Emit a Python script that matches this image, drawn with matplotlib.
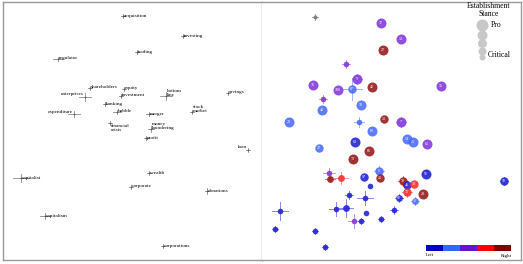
import matplotlib
matplotlib.use("Agg")
import matplotlib.pyplot as plt
from matplotlib.patches import Rectangle

# ---------------- data: left panel (word map) ----------------
words = ["acquisition", "investing", "trading", "regulator", "shareholders", "equity",
         "enterprises", "investment", "bottom\nline", "savings", "banking", "expenditure",
         "bubble", "merger", "stock\nmarket", "financial\ncrisis", "money\nlaundering",
         "profit", "loan", "capitalist", "wealth", "corporate", "donations", "capitalism",
         "corporations"]
word_x = [123, 183, 137, 58, 90, 124, 85, 121, 166, 228, 105, 74, 117, 149, 192, 110, 151,
          146, 248, 21, 149, 131, 207, 45, 163]
word_y = [16, 36, 52, 59, 88, 89, 97, 96, 96, 93, 104, 114, 112, 114, 112, 123, 129,
          138, 150, 178, 173, 187, 191, 216, 246]
word_xerr = [2, 2, 2, 5, 2, 2, 6, 2, 6, 2, 2, 6, 4, 3, 2, 2, 3, 2, 2, 8, 2, 2, 2, 5, 2]
word_yerr = [2, 2, 2, 2, 2, 2, 4, 2, 4, 2, 2, 3, 2, 2, 2, 2, 3, 2, 2, 4, 2, 2, 3, 3, 2]

# ---------------- data: right panel (speakers) ----------------
# stance group: 0 Left .. 4 Right, -1 unknown
pt_x = [315, 381, 401, 383, 346, 357, 313, 338, 352, 372, 441, 323, 322, 361, 289, 359, 384,
        401, 372, 355, 407, 413, 427, 319, 369, 353, 329, 330, 341, 364, 379, 380, 426, 370,
        403, 407, 414, 407, 423, 349, 365, 399, 415, 504, 280, 336, 346, 366, 394, 354, 361,
        381, 275, 315, 325]
pt_y = [17, 23, 39, 50, 64, 79, 85, 90, 89, 87, 86, 99, 110, 105, 122, 122, 119, 122, 131,
        142, 139, 142, 144, 148, 151, 159, 173, 179, 178, 177, 171, 178, 174, 186, 181, 185,
        184, 192, 194, 195, 198, 198, 201, 181, 211, 209, 208, 213, 210, 221, 221, 219, 229,
        231, 247]
pt_group = [-1, 2, 2, 4, 2, 2, 2, 2, 1, 4, 2, 2, 1, 1, 1, 1, 4, 2, 1, 0, 1, 1, 2, 1, 4, 4,
            2, 4, 3, 0, 1, 4, 0, 0, 4, 0, 3, 3, 4, 0, 0, 0, 1, 0, 0, 0, 0, 0, 0, 2, 0, 0, 0,
            0, 0]
pt_stance = [1, 5, 5, 5, 2, 5, 5, 5, 4, 5, 5, 2, 5, 5, 5, 2, 4, 5, 5, 5, 5, 5, 5, 4, 5, 5,
             2, 3, 3, 4, 4, 4, 5, 2, 4, 4, 4, 4, 5, 2, 2, 3, 3, 4, 2, 2, 3, 2, 2, 2, 2, 2, 2,
             2, 2]
pt_label = ["", "17", "13", "27", "", "9", "76", "100", "87", "42", "55", "", "40", "58",
            "22", "", "13", "7", "80", "63", "54", "26", "61", "27", "66", "73", "", "", "",
            "97", "6", "25", "91", "", "78", "41", "30", "72", "29", "", "", "02", "12", "18",
            "", "", "", "", "", "", "", "", "", "", ""]
pt_xerr = [3, 0, 0, 0, 4, 5, 0, 0, 10, 0, 0, 4, 0, 0, 0, 5, 0, 5, 0, 0, 0, 0, 0, 0, 0, 3,
           6, 5, 7, 0, 5, 0, 4, 0, 5, 0, 0, 5, 0, 4, 8, 4, 4, 4, 8, 7, 7, 0, 4, 6, 3, 3, 3,
           3, 3]
pt_yerr = [3, 0, 0, 0, 4, 5, 0, 0, 11, 0, 0, 4, 0, 0, 0, 5, 0, 5, 0, 0, 0, 0, 0, 0, 0, 3,
           5, 3, 6, 0, 5, 0, 4, 0, 5, 0, 0, 5, 0, 4, 7, 4, 4, 4, 9, 7, 9, 0, 4, 7, 3, 3, 3,
           3, 3]

group_colors = ["#1f1fd6", "#4a6aff", "#8236dc", "#ff2a2a", "#981818"]
cross_colors = ["#6a6ae6", "#8ea0ff", "#b07ae8", "#ff7a7a", "#c06060"]
bar_colors = ["#0000cc", "#3366ff", "#6a10d0", "#ff0000", "#800000"]
stance_legend_sizes = [5, 4, 3, 2, 1]

# ---------------- figure ----------------
W, H = 523, 264
fig = plt.figure(figsize=(W / 100, H / 100), dpi=100)
serif = ["Liberation Serif", "DejaVu Serif"]

def px_axes(x0, y0, x1, y1):
    return fig.add_axes([x0 / W, 1 - y1 / H, (x1 - x0) / W, (y1 - y0) / H])

axL = px_axes(3, 2, 262, 260)
axR = px_axes(262, 2, 521, 260)
for ax, (xa, xb) in ((axL, (3, 262)), (axR, (262, 521))):
    ax.set_xlim(xa, xb)
    ax.set_ylim(260, 2)
    ax.set_xticks([])
    ax.set_yticks([])
    for s in ax.spines.values():
        s.set_color("#9a9a9a")
        s.set_linewidth(1.0)
axR.spines["left"].set_visible(False)

# left panel
for i, w in enumerate(words):
    x, y = word_x[i], word_y[i]
    axL.plot([x - word_xerr[i], x + word_xerr[i]], [y, y], color="#8a8a8a", lw=0.6)
    axL.plot([x, x], [y - word_yerr[i], y + word_yerr[i]], color="#8a8a8a", lw=0.6)
    axL.plot([x], [y], marker="o", ms=1.2, color="#555555", mew=0)

label_style = {"enterprises": ("right", -1, -2), "expenditure": ("right", -1, -1),
               "loan": ("right", -1, -2), "financial\ncrisis": ("below", 1, 1)}
for i, w in enumerate(words):
    x, y = word_x[i], word_y[i]
    mode, dx, dy = label_style.get(w, ("left", 0.8, 0.5))
    kw = dict(fontsize=3.8, family=serif, linespacing=1.0)
    if mode == "right":
        axL.text(x + dx, y + dy, w, ha="right", va="baseline", **kw)
    elif mode == "below":
        axL.text(x + dx, y + dy, w, ha="left", va="top", **kw)
    else:
        axL.text(x + dx, y + dy, w, ha="left", va="baseline", **kw)

# right panel
radius = {1: 2.0, 2: 2.8, 3: 3.4, 4: 4.2, 5: 5.0}
for i in range(len(pt_x)):
    g = pt_group[i]
    x, y = pt_x[i], pt_y[i]
    cc = "#8a8a8a" if g < 0 else cross_colors[g]
    fc = "#777777" if g < 0 else group_colors[g]
    if pt_xerr[i] > 0:
        axR.plot([x - pt_xerr[i], x + pt_xerr[i]], [y, y], color=cc, lw=0.7, alpha=0.8,
                 zorder=2)
        axR.plot([x, x], [y - pt_yerr[i], y + pt_yerr[i]], color=cc, lw=0.7, alpha=0.8,
                 zorder=2)
    r = radius[pt_stance[i]]
    axR.scatter([x], [y], s=(2 * r * 0.72) ** 2, color=fc, alpha=0.88, linewidths=0,
                zorder=3)
    if pt_label[i]:
        axR.text(x, y, pt_label[i], ha="center", va="center", fontsize=3.0,
                 color="white", zorder=4, family=serif)

# legend: establishment stance
axR.text(489, 10, "Establishment\nStance", ha="center", va="center", fontsize=5.5,
         family=serif, linespacing=0.85)
leg_y = [25, 35, 43, 51, 57]
for s, ly in zip(stance_legend_sizes, leg_y):
    r = {1: 3.0, 2: 4.0, 3: 4.5, 4: 5.0, 5: 6.0}[s]
    axR.scatter([482], [ly], s=(2 * r * 0.72) ** 2, color="#c8c8c8", linewidths=0, zorder=2)
axR.text(491, 25, "Pro", ha="left", va="center", fontsize=5.5, family=serif)
axR.text(488, 55, "Critical", ha="left", va="center", fontsize=5.5, family=serif)

# colour bar
seg_w = (511 - 426) / len(bar_colors)
for k, c in enumerate(bar_colors):
    axR.add_patch(Rectangle((426 + k * seg_w, 245), seg_w, 6, color=c, lw=0))
axR.text(426, 255.5, "Left", ha="left", va="center", fontsize=3.5, family=serif)
axR.text(512, 255.5, "Right", ha="right", va="center", fontsize=3.5, family=serif)

fig.savefig("out.png", dpi=100)
